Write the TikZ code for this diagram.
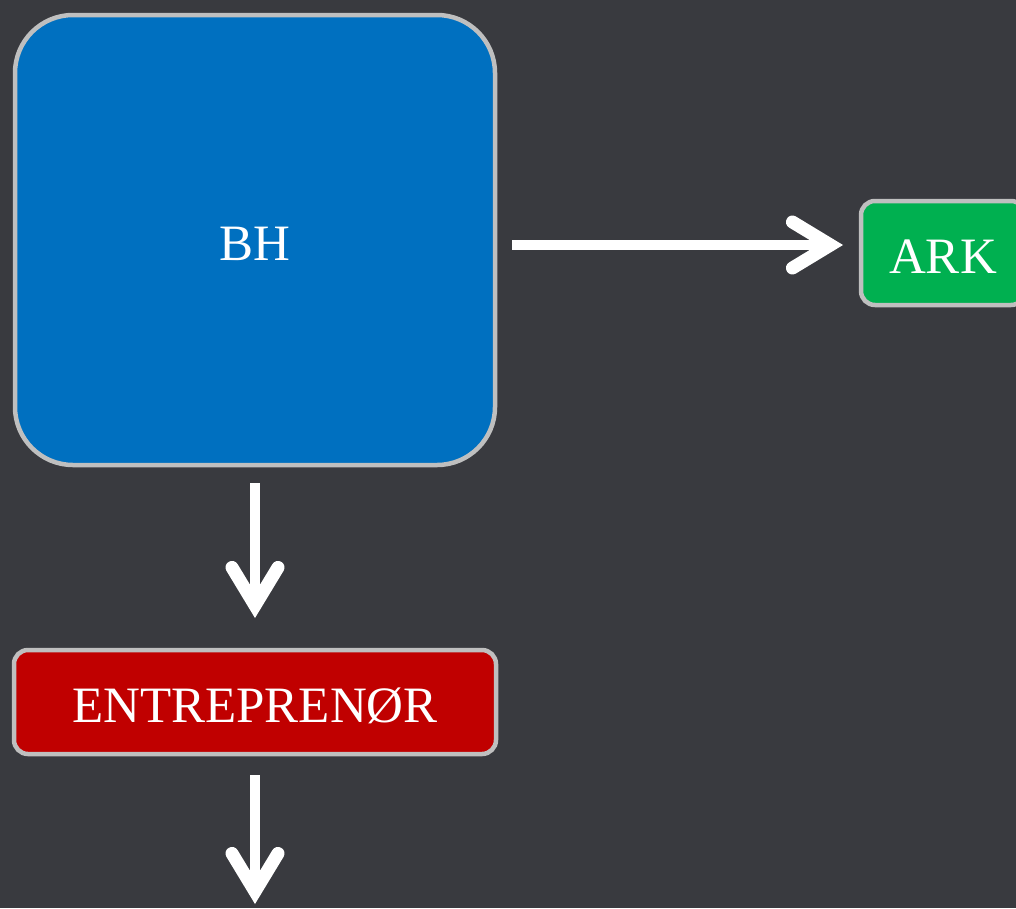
\documentclass[tikz,border=0pt]{standalone}
\usepackage{fontspec}
\setmainfont{Liberation Serif}
\usetikzlibrary{arrows.meta}
\definecolor{bgc}{HTML}{393A3F}
\definecolor{bhblue}{HTML}{0070C0}
\definecolor{entred}{HTML}{C00000}
\definecolor{arkgreen}{HTML}{00B050}
\definecolor{edgegray}{HTML}{BFBFBF}
\begin{document}
\begin{tikzpicture}[x=1pt,y=-1pt,
  boxstyle/.style={draw=edgegray,line width=4.5pt,text=white,outer sep=0pt,inner sep=0pt,
    text height=40pt,text depth=0pt,font=\fontsize{51}{60}\selectfont},
  arr/.style={draw=white,line width=10pt,
    -{Straight Barb[length=38pt,width=46pt,line width=13pt 0,line cap=round]}}
]
\fill[bgc] (0,0) rectangle (1016,908);
\useasboundingbox (0,0) rectangle (1016,908);
\node[boxstyle,fill=bhblue,rounded corners=58pt,minimum width=480pt,minimum height=450pt] (bh) at (255,240) {BH};
\node[boxstyle,fill=arkgreen,rounded corners=14pt,minimum width=164pt,minimum height=104pt] (ark) at (943,253) {ARK};
\node[boxstyle,fill=entred,rounded corners=14pt,minimum width=482pt,minimum height=104pt] (ent) at (255,702) {ENTREPRENØR};
\coordinate (a1) at ([yshift=-5pt]bh.east);
\draw[arr,shorten <=17pt,shorten >=18pt] (a1) -- (ark.west |- a1);
\draw[arr,shorten <=18pt,shorten >=32pt] (bh.south) -- (ent.north);
\coordinate (endpt) at (255,904);
\draw[arr,shorten <=21pt] (ent.south) -- (endpt);
\end{tikzpicture}
\end{document}
